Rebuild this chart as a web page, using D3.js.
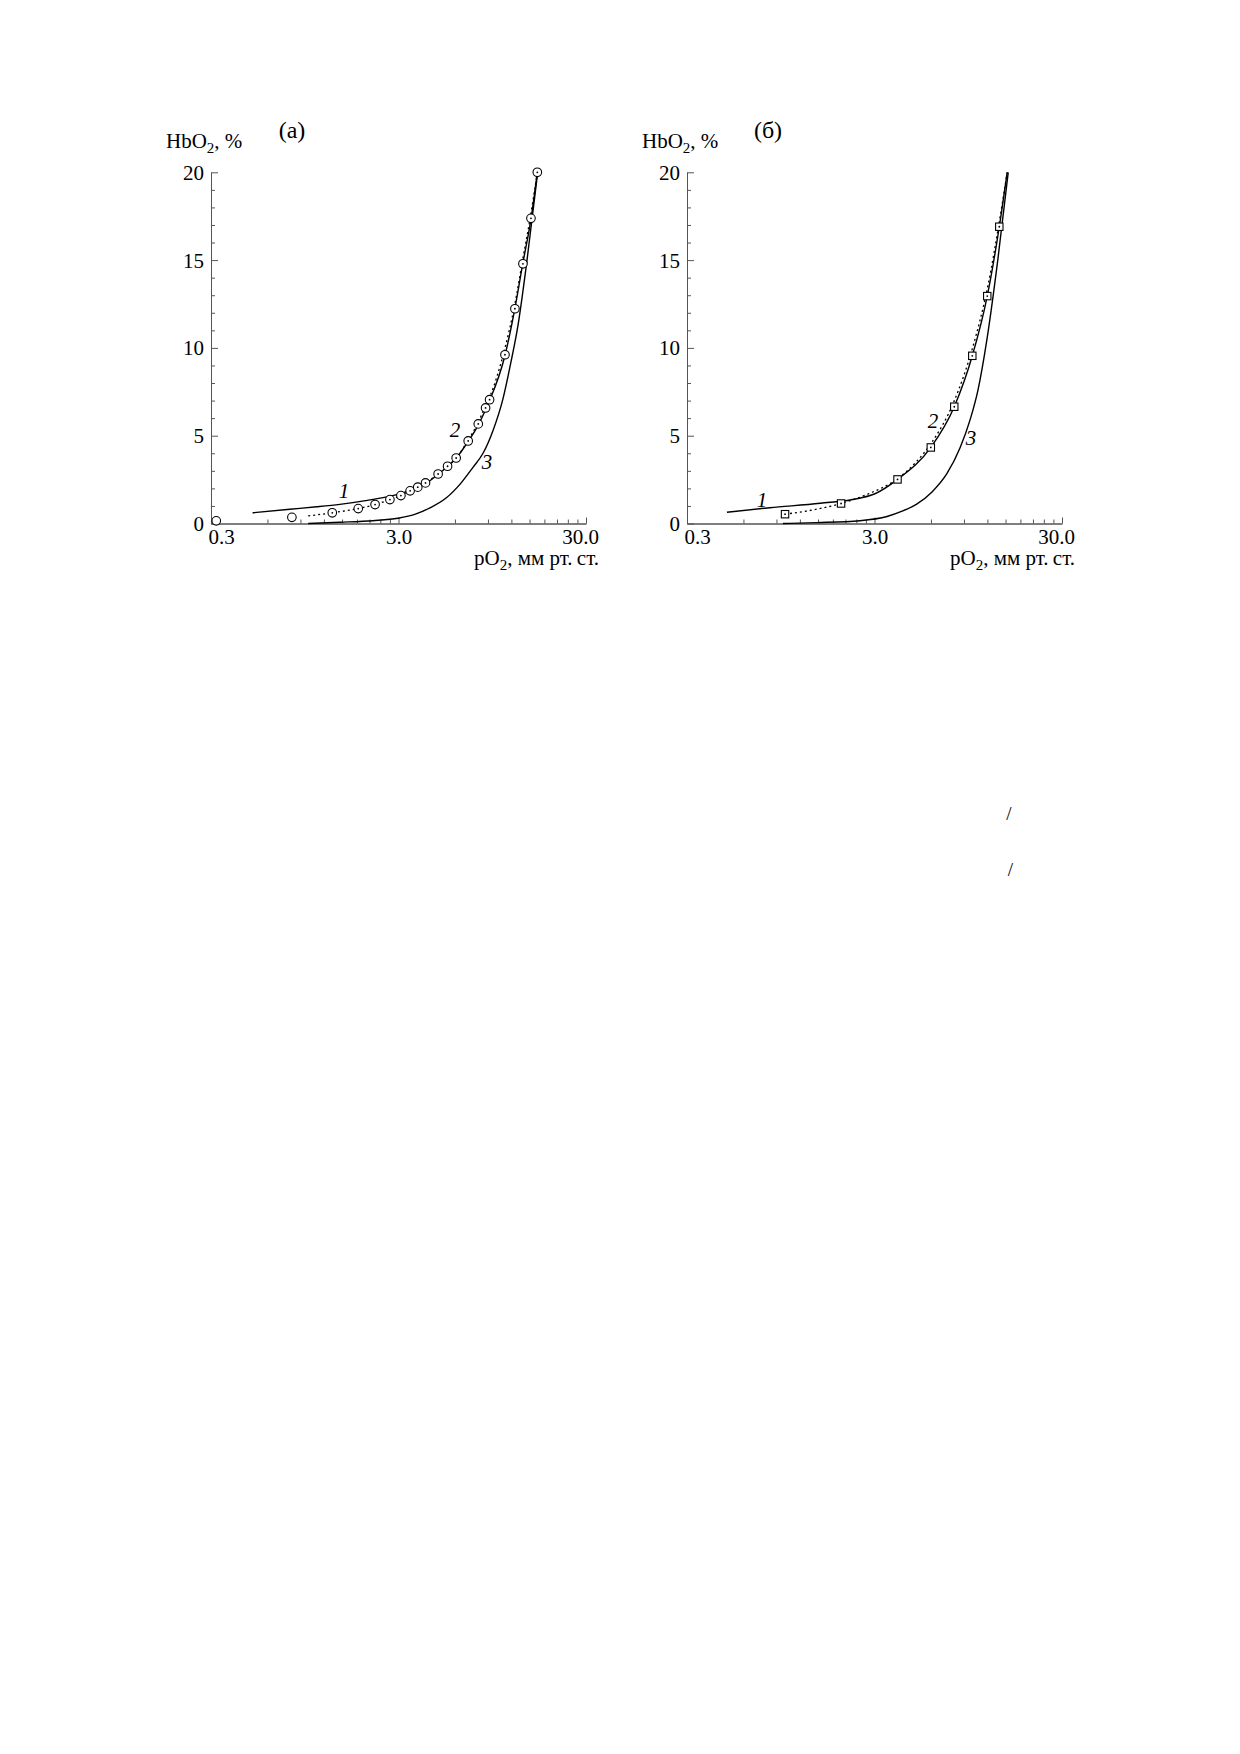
<!DOCTYPE html>
<html>
<head>
<meta charset="utf-8">
<script src="https://cdn.jsdelivr.net/npm/d3@7"></script>
<style>
  body { margin: 0; background: #fff; }
  svg { display: block; }
  text { font-family: "Liberation Serif", "Times New Roman", serif; fill: #000; }
</style>
</head>
<body>
<svg id="chart" width="1240" height="1754"></svg>
<script>
// ---------- data ----------
const xMajorTicks = [0.3, 3.0, 30.0];
const xMinorTicks = [0.6, 0.9, 1.2, 1.5, 1.8, 2.1, 2.4, 2.7, 6, 9, 12, 15, 18, 21, 24, 27];
const yMajorTicks = [0, 5, 10, 15, 20];
const yMinorTicks = [1, 2, 3, 4, 6, 7, 8, 9, 11, 12, 13, 14, 16, 17, 18, 19];

// panel (а) experimental points (circles)
const aPointsX = [0.32, 0.81, 1.33, 1.83, 2.25, 2.70, 3.09, 3.46, 3.80, 4.18, 4.88, 5.48, 6.09, 7.06, 7.99, 8.74, 9.18, 11.09, 12.53, 13.83, 15.26, 16.5];
const aPointsY = [0.15, 0.35, 0.61, 0.85, 1.08, 1.36, 1.59, 1.86, 2.07, 2.31, 2.82, 3.26, 3.73, 4.70, 5.67, 6.58, 7.05, 9.61, 12.23, 14.79, 17.38, 20.0];
// panel (а) curves
const aCurve1X = [0.50, 0.79, 1.10, 1.46, 2.0, 2.6, 3.1, 3.5, 4.2, 4.9, 5.5, 6.1, 7.0, 8.0, 8.8, 9.2, 11.1, 12.5, 13.8, 15.3, 16.5];
const aCurve1Y = [0.61, 0.81, 0.95, 1.09, 1.30, 1.52, 1.72, 1.92, 2.28, 2.82, 3.26, 3.73, 4.62, 5.62, 6.55, 7.02, 9.58, 12.2, 14.8, 17.4, 20.0];
const aCurve2X = [0.99, 1.33, 1.83, 2.25, 2.70, 3.09, 3.46, 3.80, 4.18, 4.88, 5.48, 6.09, 7.06, 8.0, 8.74, 9.2, 11.0, 12.5, 13.8, 15.2, 16.5];
const aCurve2Y = [0.43, 0.61, 0.85, 1.08, 1.36, 1.59, 1.86, 2.07, 2.31, 2.82, 3.26, 3.73, 4.75, 5.78, 6.72, 7.22, 9.85, 12.45, 15.05, 17.55, 20.0];
const aCurve3X = [0.99, 1.46, 2.19, 2.98, 3.72, 4.47, 5.38, 6.46, 7.49, 8.47, 9.58, 10.82, 11.94, 13.02, 14.54, 16.56];
const aCurve3Y = [0.0, 0.07, 0.16, 0.30, 0.55, 0.92, 1.45, 2.30, 3.20, 4.00, 5.30, 7.10, 9.20, 11.30, 15.0, 19.95];

// panel (б) experimental points (squares)
const bPointsX = [1.0, 1.99, 3.98, 5.99, 7.99, 9.97, 11.98, 13.89];
const bPointsY = [0.53, 1.14, 2.51, 4.33, 6.65, 9.55, 12.95, 16.9];
// panel (б) curves
const bCurve1X = [0.49, 0.83, 1.54, 2.49, 3.0, 3.98, 5.99, 7.99, 9.97, 11.98, 13.89, 15.3];
const bCurve1Y = [0.64, 0.90, 1.15, 1.44, 1.68, 2.51, 4.33, 6.65, 9.55, 12.95, 16.9, 20.0];
const bCurve2X = [1.0, 1.5, 1.99, 2.8, 3.98, 5.0, 6.0, 8.0, 10.0, 12.0, 14.0, 15.3];
const bCurve2Y = [0.53, 0.83, 1.14, 1.70, 2.55, 3.50, 4.55, 7.0, 10.0, 13.4, 17.4, 20.0];
const bCurve3X = [0.975, 1.48, 2.51, 3.50, 4.21, 5.06, 6.08, 7.31, 8.57, 9.70, 10.69, 11.94, 13.67, 15.5];
const bCurve3Y = [0.0, 0.05, 0.16, 0.40, 0.70, 1.12, 1.80, 2.85, 4.30, 5.90, 7.60, 10.5, 15.1, 20.0];

const titles = ["(а)", "(б)"];
const yLabelMain = "HbO";
const xLabelMain = "pO";
const xLabelRest = ", мм рт.\u2009ст.";
const curveLabels = ["1", "2", "3"];
const strayMarks = ["/", "/"];

// ---------- drawing ----------
const svg = d3.select("#chart");

function zip(xs, ys) { return xs.map((x, i) => [x, ys[i]]); }

function drawPanel(cfg) {
  const x = d3.scaleLog().domain([0.3, 30]).range([cfg.left, cfg.left + 375]);
  const y = d3.scaleLinear().domain([0, 20]).range([523.5, 172.3]);
  const g = svg.append("g");

  // axes
  const axisColor = "#555";
  const xMinor = g.append("g").attr("transform", `translate(0,${y(0)})`)
    .call(d3.axisBottom(x).tickValues(xMinorTicks).tickSize(-4).tickSizeOuter(0).tickFormat(""));
  const xMaj = g.append("g").attr("transform", `translate(0,${y(0)})`)
    .call(d3.axisBottom(x).tickValues(xMajorTicks).tickSize(-6).tickSizeOuter(0).tickPadding(6)
      .tickFormat(d3.format(".1f")));
  const yMinor = g.append("g").attr("transform", `translate(${x(0.3)},0)`)
    .call(d3.axisLeft(y).tickValues(yMinorTicks).tickSize(-4).tickSizeOuter(0).tickFormat(""));
  const yMaj = g.append("g").attr("transform", `translate(${x(0.3)},0)`)
    .call(d3.axisLeft(y).tickValues(yMajorTicks).tickSize(-7).tickSizeOuter(0).tickPadding(7)
      .tickFormat(d3.format("d")));
  [xMinor, xMaj, yMinor, yMaj].forEach(a => {
    a.selectAll("path, line").attr("stroke", axisColor).attr("stroke-width", 1);
    a.selectAll("text").style("font-family", '"Liberation Serif", serif').style("font-size", "21px").attr("fill", "#000");
  });
  xMaj.selectAll("text").attr("dy", "0.71em")
    .attr("dx", (d, i) => i === 0 ? 10 : (i === xMajorTicks.length - 1 ? -6 : 0));
  yMaj.selectAll("text").attr("dy", "0.33em");

  const line = d3.line().x(d => x(d[0])).y(d => y(d[1])).curve(d3.curveMonotoneX);

  // curves
  g.append("path").datum(zip(cfg.c3x, cfg.c3y)).attr("d", line)
    .attr("fill", "none").attr("stroke", "#000").attr("stroke-width", 1.4);
  g.append("path").datum(zip(cfg.c1x, cfg.c1y)).attr("d", line)
    .attr("fill", "none").attr("stroke", "#000").attr("stroke-width", 1.4);
  g.append("path").datum(zip(cfg.c2x, cfg.c2y)).attr("d", line)
    .attr("fill", "none").attr("stroke", "#000").attr("stroke-width", 1.3)
    .attr("stroke-dasharray", "2,3");

  // markers
  const pts = zip(cfg.px, cfg.py);
  if (cfg.marker === "circle") {
    g.selectAll("circle.pt").data(pts).enter().append("circle")
      .attr("cx", d => x(d[0])).attr("cy", d => y(d[1])).attr("r", 4.3)
      .attr("fill", "#fff").attr("stroke", "#000").attr("stroke-width", 1.1);
  } else {
    g.selectAll("rect.pt").data(pts).enter().append("rect")
      .attr("x", d => x(d[0]) - 3.7).attr("y", d => y(d[1]) - 3.7)
      .attr("width", 7.4).attr("height", 7.4)
      .attr("fill", "#fff").attr("stroke", "#000").attr("stroke-width", 1.1);
  }
  g.selectAll("circle.dot").data(pts.slice(cfg.dotFrom)).enter().append("circle")
    .attr("cx", d => x(d[0])).attr("cy", d => y(d[1])).attr("r", 0.9).attr("fill", "#000");

  // texts
  g.append("text").attr("x", x(0.3) + 81).attr("y", 138).attr("text-anchor", "middle")
    .style("font-size", "24px").text(cfg.title);
  const yl = g.append("text").attr("x", x(0.3) - 45).attr("y", 148).style("font-size", "21px");
  yl.append("tspan").text(yLabelMain);
  yl.append("tspan").attr("dy", 5).style("font-size", "15px").text("2");
  yl.append("tspan").attr("dy", -5).text(", %");
  const xl = g.append("text").attr("x", x(30) + 13).attr("y", 565).attr("text-anchor", "end").style("font-size", "21px");
  xl.append("tspan").text(xLabelMain);
  xl.append("tspan").attr("dy", 5).style("font-size", "15px").text("2");
  xl.append("tspan").attr("dy", -5).text(xLabelRest);

  cfg.labels.forEach((p, i) => {
    g.append("text").attr("x", p[0]).attr("y", p[1]).attr("text-anchor", "middle")
      .style("font-size", "21px").style("font-style", "italic").text(curveLabels[i]);
  });
}

drawPanel({
  left: 211, title: titles[0], marker: "circle", dotFrom: 2,
  px: aPointsX, py: aPointsY,
  c1x: aCurve1X, c1y: aCurve1Y, c2x: aCurve2X, c2y: aCurve2Y, c3x: aCurve3X, c3y: aCurve3Y,
  labels: [[344, 498], [455, 437], [487, 469]]
});
drawPanel({
  left: 687, title: titles[1], marker: "square", dotFrom: 0,
  px: bPointsX, py: bPointsY,
  c1x: bCurve1X, c1y: bCurve1Y, c2x: bCurve2X, c2y: bCurve2Y, c3x: bCurve3X, c3y: bCurve3Y,
  labels: [[762, 507], [933, 428], [971, 445]]
});

// stray marks
svg.selectAll("text.stray").data(strayMarks).enter().append("text")
  .attr("x", (d, i) => 1009 + i * 1.5).attr("y", (d, i) => 820 + i * 56)
  .attr("text-anchor", "middle").style("font-size", "19px").text(d => d);
</script>
</body>
</html>
